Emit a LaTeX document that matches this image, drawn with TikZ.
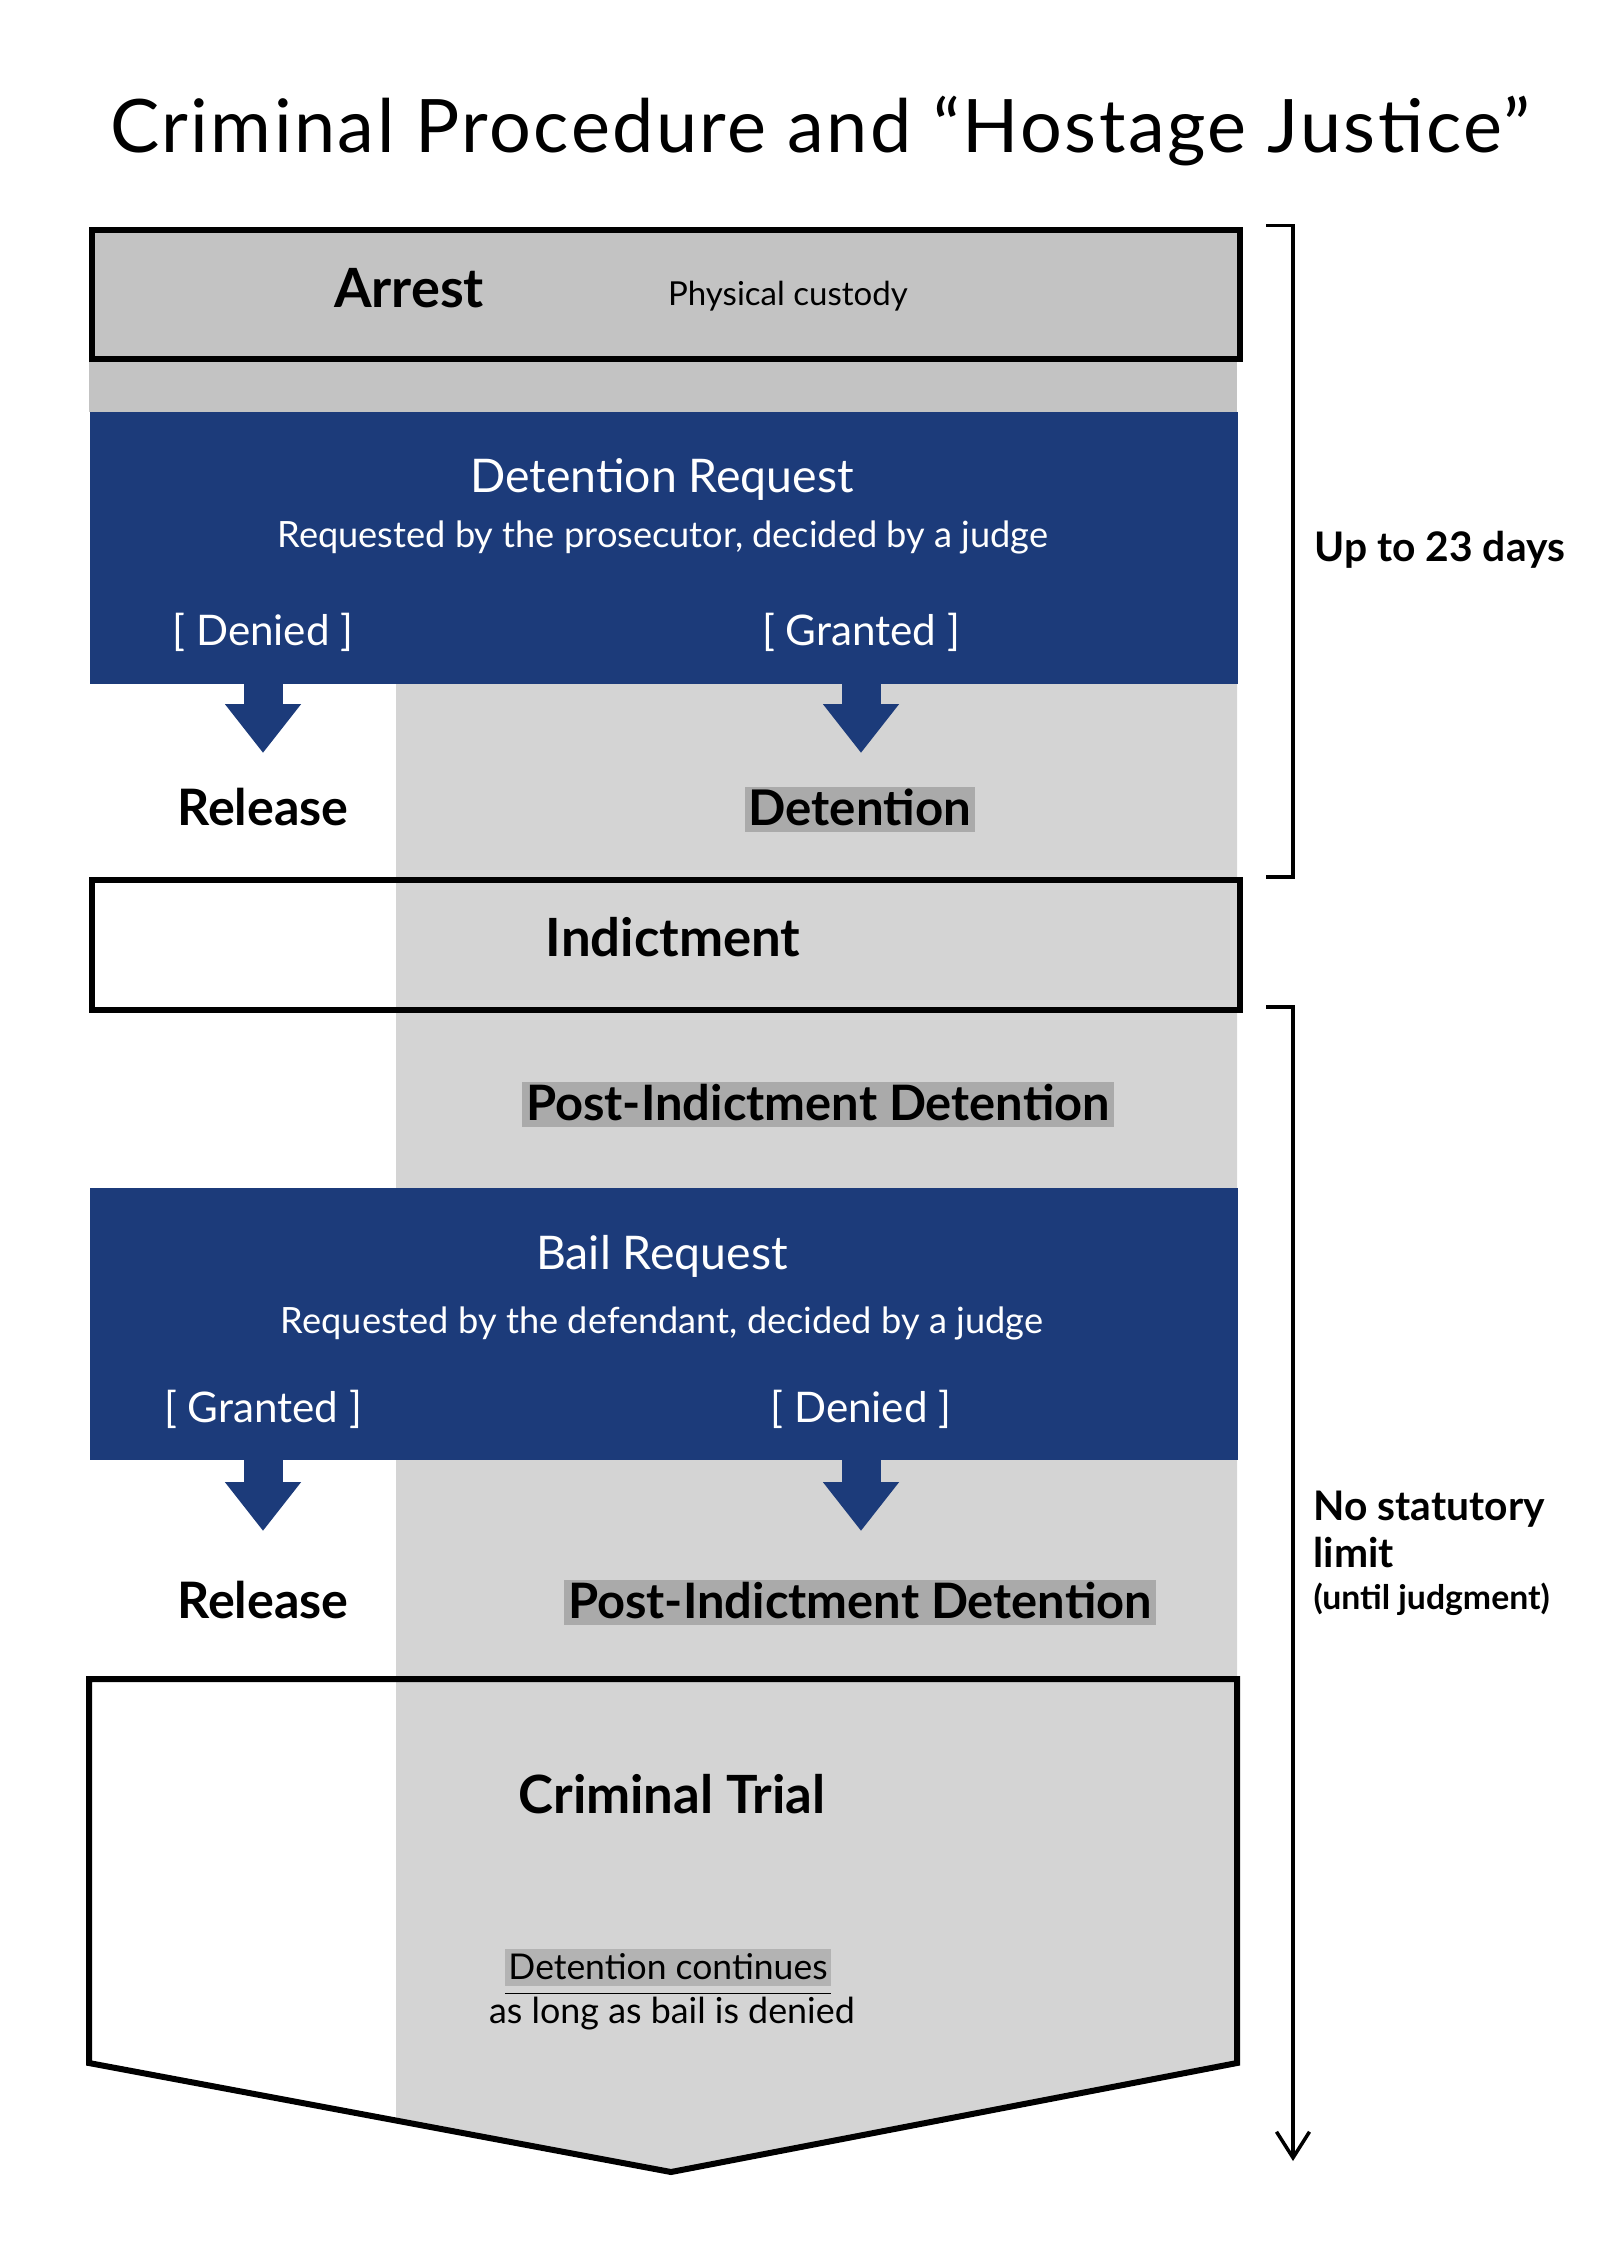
\documentclass[tikz,border=0pt]{standalone}
\usepackage{fontspec}
\setmainfont{Lato}
\newfontfamily\titlefont[LetterSpace=3.3]{Lato}
\usetikzlibrary{arrows.meta, positioning, calc}
\definecolor{navy}{HTML}{1C3B7A}
\definecolor{arrestgray}{HTML}{C3C3C3}
\definecolor{colgray}{HTML}{D4D4D4}
\definecolor{markgray}{HTML}{AAAAAA}
\definecolor{notegray}{HTML}{B3B3B3}
\tikzset{>=Stealth}
\tikzset{
  stage/.style={draw=black, line width=0.06cm},
  bluebox/.style={fill=navy, draw=none, minimum width=11.48cm, inner sep=0pt, anchor=north west},
  heading/.style={font=\bfseries\fontsize{15}{18}\selectfont, inner sep=0pt, anchor=base},
  marked/.style={heading, fill=markgray, inner xsep=0.04cm, text height=0.38cm, text depth=0.07cm},
  request/.style={font=\fontsize{13.2}{16}\selectfont, text=white, inner sep=0pt, anchor=base},
  who/.style={font=\fontsize{10.3}{13}\selectfont, text=white, inner sep=0pt, anchor=base},
  verdict/.style={font=\fontsize{12}{15}\selectfont, text=white, inner sep=0pt, anchor=base},
  blockarrow/.style={navy, line width=0.39cm, -{Triangle[width=0.73cm, length=0.49cm]}},
  span/.style={line width=0.035cm},
  spanlabel/.style={font=\bfseries\fontsize{11.6}{14}\selectfont, inner sep=0pt, anchor=base west}
}

\begin{document}
\begin{tikzpicture}
	\useasboundingbox (0,0) rectangle (16,-22.63);

	% detention column behind everything
	\fill[colgray] (3.96,-6.83) -- (12.37,-6.83) -- (12.37,-20.63) -- (6.71,-21.72) -- (3.96,-21.2) -- cycle;

	\node[font=\titlefont\fontsize{21}{25}\selectfont, inner sep=0pt, anchor=base] (title) at (8.2,-1.52) {Criminal Procedure and “Hostage Justice”};

	% stages
	\fill[arrestgray] (0.89,-3.56) rectangle (12.37,-4.12);
	\node[stage, fill=arrestgray, minimum width=11.48cm, minimum height=1.29cm, anchor=north west, inner sep=0pt] (arrest) at (0.89,-2.27) {};
	\node[bluebox, minimum height=2.72cm] (dreq) at (0.89,-4.11) {};
	\node[stage, minimum width=11.48cm, minimum height=1.3cm, anchor=north west, inner sep=0pt] (indict) at (0.89,-8.77) {};
	\node[bluebox, minimum height=2.72cm] (breq) at (0.89,-11.87) {};
	\draw[stage, line join=miter] (0.89,-20.63) -- (0.89,-16.79) -- (12.37,-16.79) -- (12.37,-20.63) -- (6.71,-21.72) -- cycle;

	\begin{scope}[every node/.append style={inner sep=0pt}]
		\node[heading, font=\bfseries\fontsize{15.4}{18}\selectfont] (a) at (4.09,-3.07) {Arrest};
		\node[font=\fontsize{9.4}{12}\selectfont, anchor=base] (pc) at (7.88,-3.05) {Physical custody};

		\node[request] (d1) at (6.62,-4.92) {Detention Request};
		\node[who] (d2) at (6.63,-5.47) {Requested by the prosecutor, decided by a judge};
		\node[verdict] (d3) at (2.63,-6.45) {[ Denied ]};
		\node[verdict] (d4) at (8.61,-6.45) {[ Granted ]};

		\node[heading, font=\bfseries\fontsize{14.3}{17}\selectfont] (rel1) at (2.63,-8.25) {Release};
		\node[marked, font=\bfseries\fontsize{14}{17}\selectfont] (det1) at (8.60,-8.25) {Detention};

		\node[heading] (ind) at (6.73,-9.56) {Indictment};
		\node[marked, font=\bfseries\fontsize{13.9}{17}\selectfont] (pid1) at (8.18,-11.20) {Post-Indictment Detention};

		\node[request] (b1) at (6.62,-12.69) {Bail Request};
		\node[who] (b2) at (6.62,-13.33) {Requested by the defendant, decided by a judge};
		\node[verdict] (b3) at (2.63,-14.22) {[ Granted ]};
		\node[verdict] (b4) at (8.61,-14.22) {[ Denied ]};

		\node[heading, font=\bfseries\fontsize{14.3}{17}\selectfont] (rel2) at (2.63,-16.18) {Release};
		\node[marked, font=\bfseries\fontsize{13.9}{17}\selectfont] (pid2) at (8.60,-16.18) {Post-Indictment Detention};

		\node[heading] (trial) at (6.72,-18.13) {Criminal Trial};
		\node[font=\fontsize{10.1}{12}\selectfont, fill=notegray, inner xsep=0.03cm, text height=0.30cm, text depth=0.07cm, anchor=base] (cont) at (6.68,-19.79) {Detention continues};
		\node[font=\fontsize{10.2}{12}\selectfont, anchor=base] (bail) at (6.72,-20.23) {as long as bail is denied};

		\node[spanlabel] (days) at (13.14,-5.61) {Up to 23 days};
		\node[spanlabel] (nolim) at (13.13,-15.20) {No statutory};
		\node[spanlabel] (lim) at (13.13,-15.67) {limit};
		\node[spanlabel, font=\bfseries\fontsize{9.6}{12}\selectfont] (until) at (13.13,-16.09) {(until judgment)};
	\end{scope}

	\draw[line width=0.015cm] ([yshift=-0.07cm]cont.south west) -- ([yshift=-0.07cm]cont.south east);

	% outcome arrows
	\coordinate (t1) at (2.63,-7.53);
	\coordinate (t2) at (8.61,-7.53);
	\coordinate (t3) at (2.63,-15.31);
	\coordinate (t4) at (8.61,-15.31);
	\draw[blockarrow] ([yshift=0.02cm]dreq.south -| t1) -- (t1);
	\draw[blockarrow] ([yshift=0.02cm]dreq.south -| t2) -- (t2);
	\draw[blockarrow] ([yshift=0.02cm]breq.south -| t3) -- (t3);
	\draw[blockarrow] ([yshift=0.02cm]breq.south -| t4) -- (t4);

	% time spans
	\coordinate (s1) at (12.66,-2.255);
	\coordinate (s2) at (12.66,-8.77);
	\coordinate (s3) at (12.66,-10.07);
	\coordinate (s4) at (12.93,-21.61);
	\draw[span] (s1) -| ($(s2)+(0.27,0)$) -- (s2);
	\draw[span, -{Straight Barb[length=0.26cm, width=0.33cm]}] (s3) -| (s4);
\end{tikzpicture}
\end{document}
